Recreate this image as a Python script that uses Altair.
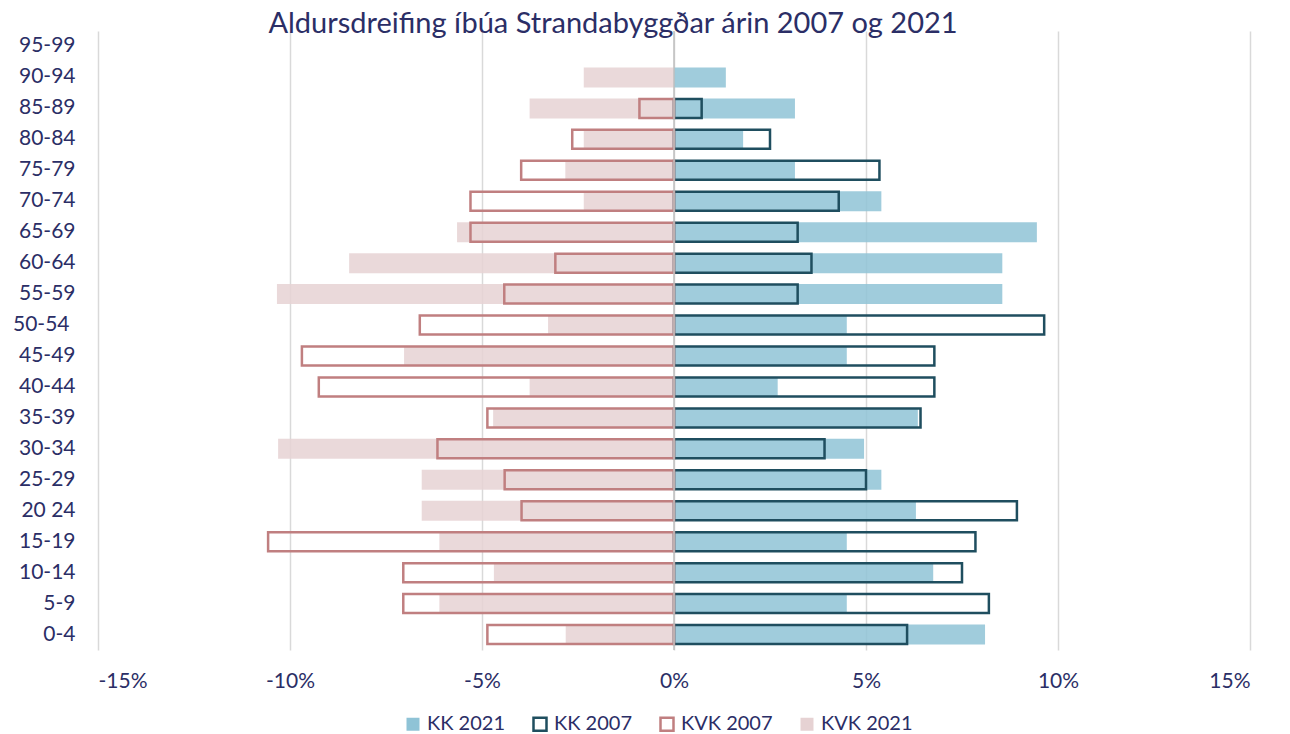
import altair as alt
import pandas as pd

# Age groups, bottom to top
ages = ["0-4", "5-9", "10-14", "15-19", "20 24", "25-29", "30-34", "35-39",
        "40-44", "45-49", "50-54\u00a0", "55-59", "60-64", "65-69", "70-74",
        "75-79", "80-84", "85-89", "90-94", "95-99"]

# Share of population (%) per age group
kk_2021 = [8.1, 4.5, 6.75, 4.5, 6.3, 5.4, 4.95, 6.35, 2.7, 4.5, 4.5, 8.55,
           8.55, 9.45, 5.4, 3.15, 1.8, 3.15, 1.35, 0]
kk_2007 = [6.07, 8.2, 7.5, 7.85, 8.93, 5.0, 3.92, 6.42, 6.78, 6.78, 9.64,
           3.22, 3.58, 3.22, 4.29, 5.35, 2.5, 0.72, 0, 0]
kvk_2007 = [4.86, 7.05, 7.05, 10.57, 3.97, 4.41, 6.16, 4.86, 9.25, 9.69,
            6.62, 4.42, 3.09, 5.3, 5.3, 3.98, 2.65, 0.9, 0, 0]
kvk_2021 = [2.82, 6.11, 4.69, 6.11, 6.57, 6.57, 10.31, 4.71, 3.76, 7.03,
            3.28, 10.34, 8.46, 5.65, 2.35, 2.83, 2.35, 3.76, 2.35, 0]

series_names = ["KK 2021", "KK 2007", "KVK 2007", "KVK 2021"]
x_ticks = [-0.15, -0.10, -0.05, 0.0, 0.05, 0.10, 0.15]
title_text = "Aldursdreifing íbúa Strandabyggðar árin 2007 og 2021"

NAVY = "#2b2e66"
FONT = "Lato"

rows = []
for name, vals, sign, kind in [
    ("KK 2021", kk_2021, 1, "fill"),
    ("KVK 2021", kvk_2021, -1, "fill"),
    ("KK 2007", kk_2007, 1, "outline"),
    ("KVK 2007", kvk_2007, -1, "outline"),
]:
    for a, v in zip(ages, vals):
        if v:
            rows.append({"age": a, "series": name, "value": sign * v / 100.0, "kind": kind})
df = pd.DataFrame(rows)

CLEAR = "rgba(0,0,0,0)"
fill_range = ["#8fc3d6", CLEAR, CLEAR, "#e6d2d3"]
stroke_range = [CLEAR, "#1f4e5f", "#c07f80", CLEAR]

legend = alt.Legend(
    title=None, orient="none", legendX=305, legendY=683, direction="horizontal",
    columns=4, symbolType="square", symbolSize=169, symbolStrokeWidth=2.5,
    labelFontSize=20, labelFont=FONT, labelColor=NAVY, labelOffset=4,
    columnPadding=22,
)

y_enc = alt.Y("age:N", sort=ages[::-1],
              scale=alt.Scale(domain=ages[::-1], paddingInner=0, paddingOuter=0),
              axis=alt.Axis(title=None, domain=False, ticks=False, grid=False,
                            labelFontSize=21, labelFont=FONT, labelColor=NAVY,
                            labelPadding={"condition": {"test": "indexof(datum.value, '50-54') >= 0", "value": 29},
                                          "value": 23},
                            labelAlign="right"))
x_enc = alt.X("value:Q", stack=None,
              scale=alt.Scale(domain=[-0.15, 0.15], nice=False),
              axis=alt.Axis(title=None, values=x_ticks, domain=False, ticks=False,
                            grid=True, gridColor="#d9d9d9", gridWidth=1.5,
                            labelFontSize=21, labelFont=FONT, labelColor=NAVY,
                            labelPadding=20,
                            labelExpr="(datum.value < -0.0001 ? '-' : '') + format(abs(datum.value), '.0%')"))

base = alt.Chart(df).encode(
    x=x_enc,
    y=y_enc,
    fill=alt.Fill("series:N", scale=alt.Scale(domain=series_names, range=fill_range), legend=legend),
    stroke=alt.Stroke("series:N", scale=alt.Scale(domain=series_names, range=stroke_range), legend=legend),
)

fills = base.transform_filter(alt.datum.kind == "fill").mark_bar(size=20, fillOpacity=0.85, strokeWidth=2.5)
outlines = base.transform_filter(alt.datum.kind == "outline").mark_bar(size=19, strokeWidth=2.5)
zero = alt.Chart(pd.DataFrame({"z": [0]})).mark_rule(color="#bfbfbf", strokeWidth=1.5).encode(x=alt.datum(0))

chart = alt.layer(fills, outlines, zero).properties(
    width=1152, height=619,
    autosize="none",
    padding={"left": 90, "top": 23, "right": 30, "bottom": 84},
    title=alt.Title(title_text, fontSize=29, font=FONT, color=NAVY, fontWeight="normal",
                    anchor="middle", dx=-61, dy=32, offset=0, baseline="alphabetic"),
).configure_view(strokeWidth=0)

chart.save("out.html", embed_options={"renderer": "svg", "actions": False})
